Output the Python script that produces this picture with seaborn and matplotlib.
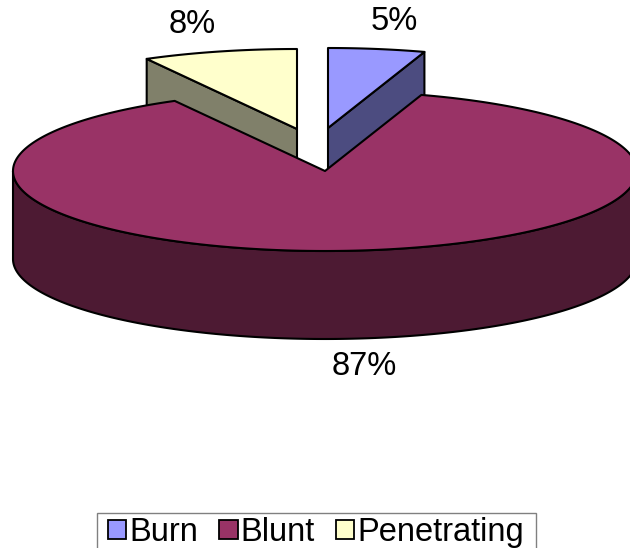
import numpy as np
import matplotlib
matplotlib.use("Agg")
import matplotlib.pyplot as plt
from matplotlib.patches import Patch, Rectangle
import seaborn as sns

sns.set_style("white")
plt.rcParams["font.family"] = ["Liberation Sans", "DejaVu Sans"]
plt.rcParams["text.color"] = "black"

categories = ["Burn", "Blunt", "Penetrating"]
shares = [5, 87, 8]
pct_labels = ["5%", "87%", "8%"]
top_colors = ["#9999FF", "#993366", "#FFFFCC"]
side_colors = ["#4C4C80", "#4D1A33", "#80806A"]

# layout in pixel units
CX, CY, A, B, DEPTH = 325, 171, 312, 80, 88
explode = [(3, -43), (0, 0), (-28, -42)]
LABEL_R = 1.35
EDGE = dict(edgecolor="black", linewidth=1.5, joinstyle="round")

frac = np.array(shares) / sum(shares)
ends = 90 - 360 * np.cumsum(frac)
starts = ends + 360 * frac


def rim(cx, cy, t):
    t = np.radians(t)
    return cx + A * np.cos(t), cy - B * np.sin(t)


fig = plt.figure(figsize=(6.3, 5.48), dpi=100)
ax = fig.add_axes([0, 0, 1, 1])
ax.set_xlim(0, 630)
ax.set_ylim(548, 0)
ax.axis("off")

# back (exploded) slices first, then the big one in front
order = sorted(range(len(shares)), key=lambda i: explode[i][1])
for i in order:
    cx, cy = CX + explode[i][0], CY + explode[i][1]
    lo, hi = ends[i], starts[i]

    # radial cut faces that face the viewer
    for t, vis in ((lo, np.cos(np.radians(lo)) > 1e-6),
                   (hi, np.cos(np.radians(hi)) < -1e-6)):
        if vis:
            x, y = rim(cx, cy, t)
            ax.fill([cx, x, x, cx], [cy, y, y + DEPTH, cy + DEPTH],
                    facecolor=side_colors[i], **EDGE)

    # curved outer wall on the front half
    for k in (-1, 0, 1):
        a0, a1 = max(lo, -180 + 360 * k), min(hi, 360 * k)
        if a1 > a0:
            ts = np.linspace(a0, a1, 300)
            x, y = rim(cx, cy, ts)
            ax.fill(np.concatenate([x, x[::-1]]),
                    np.concatenate([y, y[::-1] + DEPTH]),
                    facecolor=side_colors[i], **EDGE)

    # top face
    ts = np.linspace(lo, hi, 400)
    x, y = rim(cx, cy, ts)
    ax.fill(np.concatenate([[cx], x]), np.concatenate([[cy], y]),
            facecolor=top_colors[i], **EDGE)

    # percentage label
    mid = (lo + hi) / 2
    lx, ly = rim(cx, cy, mid)
    lx = cx + LABEL_R * (lx - cx)
    ly = cy + LABEL_R * (ly - cy)
    if np.sin(np.radians(mid)) < 0:
        ly += DEPTH
    ax.text(lx, ly, pct_labels[i], ha="center", va="center", fontsize=23.5,
            color="black")

# legend box frame (runs off the bottom edge like the original)
ax.add_patch(Rectangle((97, 513), 439, 60, facecolor="white",
                       edgecolor="#808080", linewidth=1, zorder=5))
handles = [Patch(facecolor=c, edgecolor="black", linewidth=1.3) for c in top_colors]
leg = fig.legend(handles, categories, loc="upper left",
                 bbox_to_anchor=(108 / 630, 1 - 517 / 548), ncol=3, fontsize=23.5,
                 frameon=False, handlelength=0.56, handleheight=0.56,
                 handletextpad=0.1, columnspacing=0.64, borderpad=0,
                 borderaxespad=0)
leg.set_zorder(6)

fig.savefig("out.png", dpi=100)
